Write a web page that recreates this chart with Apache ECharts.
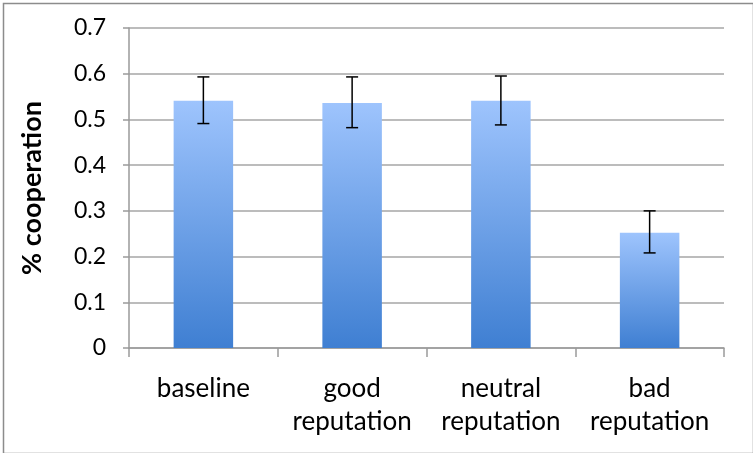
<!DOCTYPE html>
<html><head><meta charset="utf-8">
<script src="https://cdn.jsdelivr.net/npm/echarts@6/dist/echarts.min.js"></script>
<style>html,body{margin:0;padding:0;background:#fff}#c{width:753px;height:453px}</style>
</head><body><div id="c"></div>
<script>
const categories = ['baseline', 'good\nreputation', 'neutral\nreputation', 'bad\nreputation'];
const values = [0.541, 0.536, 0.541, 0.252];
const errLow = [0.491, 0.482, 0.488, 0.208];
const errHigh = [0.593, 0.593, 0.595, 0.300];
const yTicks = [0, 0.1, 0.2, 0.3, 0.4, 0.5, 0.6, 0.7];

const FONT = 'Lato';
const chart = echarts.init(document.getElementById('c'), null, {renderer: 'canvas'});
const errData = categories.map((c, i) => [i, errLow[i], errHigh[i]]);
chart.setOption({
  animation: false,
  graphic: [{type: 'rect', left: 1, top: 1, shape: {width: 750, height: 450}, style: {fill: 'none', stroke: '#8c8c8c', lineWidth: 1.5}, z: -1}],
  grid: {left: 129, right: 29, top: 28, bottom: 105, containLabel: false},
  xAxis: {
    type: 'category', data: categories,
    axisLine: {show: true, lineStyle: {color: '#9a9a9a', width: 1.5}},
    axisTick: {show: true, interval: 0, length: 9, inside: false, alignWithLabel: false, lineStyle: {color: '#9a9a9a', width: 1.5}},
    axisLabel: {interval: 0, hideOverlap: false, color: '#000', fontFamily: FONT, fontSize: 26, lineHeight: 33, margin: 24}
  },
  yAxis: {
    type: 'value', min: 0, max: 0.7, interval: 0.1,
    name: '% cooperation', nameLocation: 'middle', nameGap: 83, nameRotate: 90,
    nameTextStyle: {color: '#000', fontFamily: FONT, fontWeight: 'bold', fontSize: 27},
    axisLine: {show: true, lineStyle: {color: '#9a9a9a', width: 1.5}},
    axisTick: {show: true, length: 6, lineStyle: {color: '#9a9a9a', width: 1.5}},
    splitLine: {show: true, lineStyle: {color: '#a6a6a6', width: 1.5}},
    axisLabel: {color: '#000', fontFamily: FONT, fontSize: 23, margin: 23,
      formatter: v => { const t = yTicks.find(x => Math.abs(x - v) < 1e-9); return t === 0 ? '0' : (t !== undefined ? t.toFixed(1) : ''); }}
  },
  series: [{
    type: 'bar', data: values, barWidth: '40%',
    itemStyle: {color: new echarts.graphic.LinearGradient(0, 0, 0, 1, [{offset: 0, color: '#9ec4fd'}, {offset: 1, color: '#3f7fd2'}])},
    z: 2
  }, {
    type: 'custom', data: errData, z: 5,
    renderItem: (params, api) => {
      const x = api.value(0);
      const lo = api.coord([x, api.value(1)]);
      const hi = api.coord([x, api.value(2)]);
      const hw = 6;
      const st = {stroke: '#000', lineWidth: 1.5};
      return {type: 'group', children: [
        {type: 'line', shape: {x1: lo[0], y1: lo[1], x2: hi[0], y2: hi[1]}, style: st},
        {type: 'line', shape: {x1: lo[0] - hw, y1: lo[1], x2: lo[0] + hw, y2: lo[1]}, style: st},
        {type: 'line', shape: {x1: hi[0] - hw, y1: hi[1], x2: hi[0] + hw, y2: hi[1]}, style: st}
      ]};
    }
  }]
});
</script></body></html>
